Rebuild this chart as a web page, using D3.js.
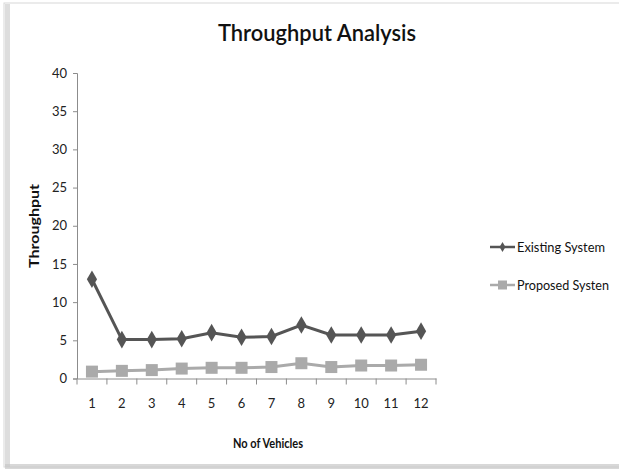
<!DOCTYPE html>
<html><head><meta charset="utf-8">
<script src="https://cdn.jsdelivr.net/npm/d3@7"></script>
<style>body{margin:0;background:#fff;}svg{display:block;}text{font-family:Lato,"Open Sans",sans-serif;}</style>
</head><body>
<script>
const categories = ["1","2","3","4","5","6","7","8","9","10","11","12"];
const existing = [13, 5.1, 5.1, 5.2, 6, 5.4, 5.5, 7, 5.7, 5.7, 5.7, 6.2];
const proposed = [0.9, 1.0, 1.1, 1.3, 1.4, 1.4, 1.5, 2.0, 1.5, 1.7, 1.7, 1.8];
const yTicks = [0, 5, 10, 15, 20, 25, 30, 35, 40];
const seriesNames = ["Existing System", "Proposed Systen"];

const W = 619, H = 471;
const svg = d3.select("body").append("svg").attr("width", W).attr("height", H);

// frame with shadow
svg.append("rect").attr("x",4).attr("y",3).attr("width",W).attr("height",464).attr("fill","#fff").attr("stroke","#d8d8d8").attr("stroke-width",1);
svg.append("rect").attr("x",5).attr("y",4).attr("width",5).attr("height",463).attr("fill","#cfcfcf").attr("opacity",0.7);
svg.append("rect").attr("x",5).attr("y",464).attr("width",W).attr("height",5).attr("fill","#c8c8c8").attr("opacity",0.7);

const x = d3.scaleBand().domain(categories).range([77, 436]);
const y = d3.scaleLinear().domain([0, 40]).range([378.5, 73]);

// title
svg.append("text").attr("x", 317).attr("y", 41).attr("text-anchor","middle")
  .style("font-size","22px").style("font-weight","600").attr("fill","#111")
  .attr("textLength",198).attr("lengthAdjust","spacingAndGlyphs").text("Throughput Analysis");

// y axis
const yAxis = svg.append("g").attr("transform","translate(77,0)")
  .call(d3.axisLeft(y).tickValues(yTicks).tickSize(4).tickPadding(6));
// x axis
const xAxis = svg.append("g").attr("transform","translate(0,378.5)")
  .call(d3.axisBottom(x).tickSize(0).tickPadding(20));
xAxis.selectAll(".tick line").remove();
xAxis.selectAll(".tickmark").data(categories.concat(["end"])).enter().append("line")
  .attr("x1",(d,i)=> i<categories.length ? x(d) : x.range()[1])
  .attr("x2",(d,i)=> i<categories.length ? x(d) : x.range()[1])
  .attr("y1",0).attr("y2",6).attr("stroke","#8c8c8c");
[yAxis, xAxis].forEach(g=>{
  g.select(".domain").attr("stroke","#8c8c8c");
  g.selectAll(".tick line").attr("stroke","#8c8c8c");
  g.selectAll("text").attr("fill","#222").style("font-size","13px").style("font-family","Lato, sans-serif");
});

// axis titles
svg.append("text").attr("transform","translate(39,226) rotate(-90)").attr("text-anchor","middle")
  .style("font-size","13px").style("font-weight","bold").attr("fill","#111")
  .attr("textLength",84).attr("lengthAdjust","spacingAndGlyphs").text("Throughput");
svg.append("text").attr("x",268).attr("y",448).attr("text-anchor","middle")
  .style("font-size","13px").style("font-weight","bold").attr("fill","#111")
  .attr("textLength",70).attr("lengthAdjust","spacingAndGlyphs").text("No of Vehicles");

const cx = d => x(d) + x.bandwidth()/2;
const line = d3.line().x((d,i)=>cx(categories[i])).y(d=>y(d));
const colors = ["#555555", "#aaaaaa"];

svg.append("path").datum(proposed).attr("d",line).attr("fill","none").attr("stroke",colors[1]).attr("stroke-width",3);
svg.selectAll(".sq").data(proposed).enter().append("rect")
  .attr("x",(d,i)=>cx(categories[i])-6).attr("y",d=>y(d)-6).attr("width",12).attr("height",12).attr("fill",colors[1]);

svg.append("path").datum(existing).attr("d",line).attr("fill","none").attr("stroke",colors[0]).attr("stroke-width",3);
const diamond = d3.symbol().type(d3.symbolDiamond).size(90);
svg.selectAll(".dm").data(existing).enter().append("path")
  .attr("d",diamond).attr("transform",(d,i)=>`translate(${cx(categories[i])},${y(d)})`).attr("fill",colors[0]);

// legend
const leg = svg.append("g");
[0,1].forEach(i=>{
  const ly = 247 + i*38;
  leg.append("line").attr("x1",490).attr("x2",515).attr("y1",ly).attr("y2",ly).attr("stroke",colors[i]).attr("stroke-width",2.5);
  if(i===0) leg.append("path").attr("d",d3.symbol().type(d3.symbolDiamond).size(30)).attr("transform",`translate(502.5,${ly})`).attr("fill",colors[0]);
  else leg.append("rect").attr("x",498).attr("y",ly-4.5).attr("width",9).attr("height",9).attr("fill",colors[1]);
  leg.append("text").attr("x",517).attr("y",ly+4.5).style("font-size","13px").attr("fill","#111")
    .attr("textLength", i===0?88:92).attr("lengthAdjust","spacingAndGlyphs").text(seriesNames[i]);
});
</script>
</body></html>
